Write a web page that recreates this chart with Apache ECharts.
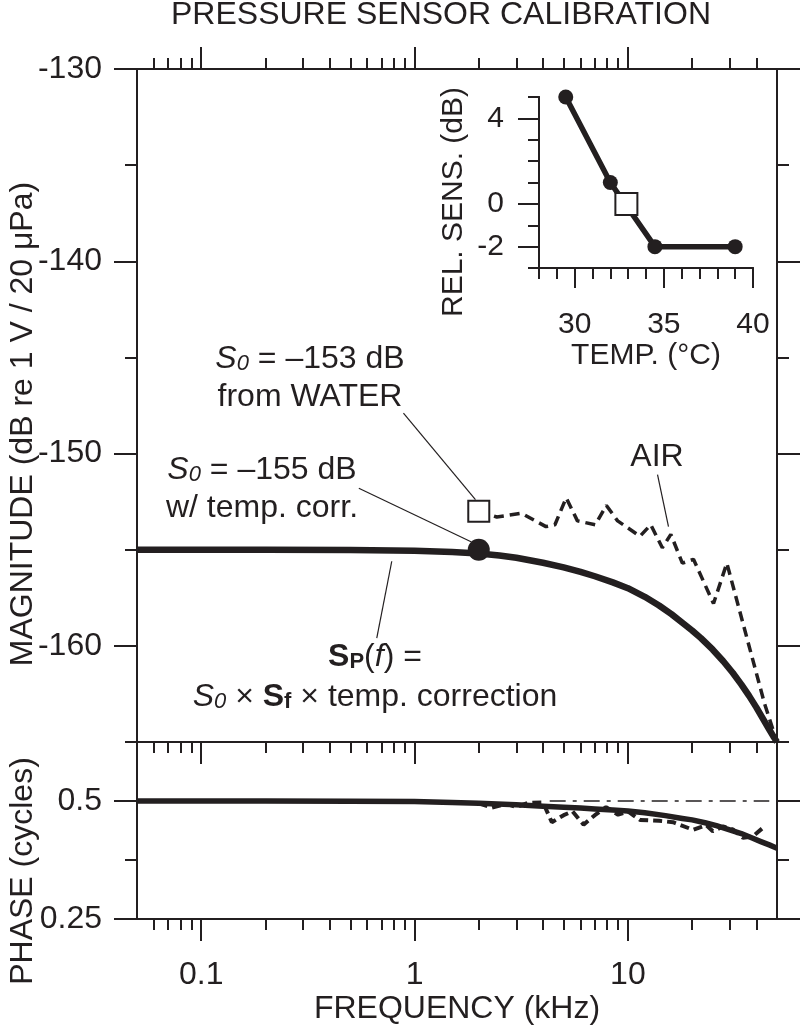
<!DOCTYPE html>
<html>
<head>
<meta charset="utf-8">
<title>Pressure sensor calibration</title>
<script src="https://cdn.jsdelivr.net/npm/echarts@6/dist/echarts.min.js"></script>
<style>
  html, body { margin: 0; padding: 0; background: #fff; }
  #chart { width: 800px; height: 1026px; }
</style>
</head>
<body>
<div id="chart"></div>
<script>
// ---- data ----
// magnitude, S_P(f) solid curve (kHz, dB)
var magFreq  = [0.05, 0.1, 0.2, 0.5, 1, 1.5, 2, 2.5, 3, 4, 5, 6, 7, 8.5, 10, 12, 14, 16, 18, 20, 22, 25, 28, 31, 34, 37, 40, 43, 46, 48, 50];
var magSolid = [-155.0, -155.0, -155.0, -155.02, -155.05, -155.12, -155.2, -155.3, -155.42, -155.68, -155.92, -156.15, -156.38, -156.7, -157.0, -157.45, -157.9, -158.35, -158.8, -159.2, -159.6, -160.2, -160.8, -161.4, -162.0, -162.6, -163.2, -163.8, -164.35, -164.7, -165.0];
// magnitude, AIR measurement (dashed)
var airFreq = [2.0, 2.43, 3.17, 4.13, 4.55, 5.14, 5.8, 7.03, 7.93, 8.95, 11.4, 12.8, 14.5, 15.9, 18.0, 20.3, 25.2, 29.1, 43.7, 50];
var airMag  = [-153.0, -153.3, -153.1, -153.8, -153.7, -152.3, -153.5, -153.7, -152.7, -153.5, -154.3, -153.7, -154.9, -154.2, -155.7, -155.5, -157.8, -155.7, -163.0, -165.0];
// S0 points
var waterPoint = [2, -153];
var s0Point    = [2, -155];

// phase (cycles)
var phFreq  = [0.05, 0.1, 0.2, 0.5, 1, 1.5, 2, 3, 4, 5, 6, 7, 8.5, 10, 12, 15, 18, 20, 23, 26, 30, 34, 38, 42, 46, 50];
var phSolid = [0.5, 0.5, 0.5, 0.4995, 0.499, 0.497, 0.495, 0.492, 0.489, 0.487, 0.485, 0.483, 0.481, 0.479, 0.475, 0.469, 0.463, 0.460, 0.454, 0.448, 0.439, 0.431, 0.422, 0.414, 0.407, 0.400];
var phAirFreq = [2.0, 2.3, 2.7, 3.0, 3.4, 4.0, 4.4, 5.0, 5.5, 6.2, 7.0, 7.9, 9.0, 10.0, 11.4, 14, 16.3, 20.2, 23.3, 25.0, 27.9, 31, 34.6, 38.5, 43.7];
var phAir     = [0.495, 0.486, 0.494, 0.487, 0.496, 0.497, 0.455, 0.470, 0.478, 0.450, 0.470, 0.487, 0.471, 0.478, 0.460, 0.458, 0.455, 0.439, 0.449, 0.436, 0.446, 0.440, 0.422, 0.425, 0.446];
var phRefFreq = [4.3, 46];
var phRef     = [0.5, 0.5];

// inset: relative sensitivity vs temperature
var temps   = [29.5, 32, 34.5, 39];
var relSens = [5, 1, -2, -2];
var insetSquare = [32.9, 0];

// ticks
var freqMajor = [0.1, 1, 10];
var freqMinor = [0.06, 0.07, 0.08, 0.09, 0.2, 0.3, 0.4, 0.5, 0.6, 0.7, 0.8, 0.9, 2, 3, 4, 5, 6, 7, 8, 9, 20, 30, 40];
var magMajor = [-160, -150, -140, -130];
var magMinor = [-165, -155, -145, -135];
var phMajor = [0.25, 0.5];
var phMinor = [0.375, 0.625];
var tempMajor = [30, 35, 40];
var relMajor = [-2, 0, 4];

var ink = '#231f20';
var font = '"Liberation Sans", Arial, Helvetica, sans-serif';
var fs = 32;

function pairs(xs, ys) {
    return xs.map(function (x, i) { return [x, ys[i]]; });
}

function axisBase(extra) {
    var a = {
        axisLine: { show: true, onZero: false, lineStyle: { color: ink, width: 2 } },
        splitLine: { show: false },
        axisLabel: { show: false }
    };
    return Object.assign(a, extra);
}

function tickStyle(values, len, inside) {
    return { show: true, inside: !!inside, length: len, customValues: values, lineStyle: { color: ink, width: 2 } };
}

function freqAxis(grid, pos, ticks, len, inside, labels) {
    var a = axisBase({
        type: 'log', logBase: 10, gridIndex: grid, position: pos, min: 0.05, max: 50,
        axisTick: tickStyle(ticks, len, inside)
    });
    if (labels) {
        a.axisLabel = { show: true, customValues: labels, margin: 40, color: ink, fontSize: fs, fontFamily: font };
        a.name = 'FREQUENCY (kHz)';
        a.nameLocation = 'middle';
        a.nameGap = 74;
        a.nameTextStyle = { color: ink, fontSize: fs, fontFamily: font };
    }
    return a;
}

function valAxis(grid, pos, min, max, ticks, len, labels, labelSize) {
    var a = axisBase({
        type: 'value', gridIndex: grid, position: pos, min: min, max: max,
        axisTick: tickStyle(ticks, len, false)
    });
    if (labels) {
        a.axisLabel = { show: true, customValues: labels, margin: 35, color: ink, fontSize: labelSize || fs, fontFamily: font };
    }
    return a;
}

var chart = echarts.init(document.getElementById('chart'));

var rich = {
    n: { fontSize: fs, fontFamily: font, color: ink },
    i: { fontSize: fs, fontFamily: font, fontStyle: 'italic', color: ink },
    isub: { fontSize: 22, fontFamily: font, fontStyle: 'italic', color: ink, verticalAlign: 'bottom' },
    b: { fontSize: fs, fontFamily: font, fontWeight: 'bold', color: ink },
    bsub: { fontSize: 22, fontFamily: font, fontWeight: 'bold', color: ink, verticalAlign: 'bottom' }
};

function label(x, y, text) {
    return {
        type: 'text', x: x, y: y, silent: true, z: 50,
        style: { text: text, rich: rich, fill: ink, font: fs + 'px ' + font, align: 'center', verticalAlign: 'middle' }
    };
}

function plain(x, y, text, size, rot) {
    return {
        type: 'text', x: x, y: y, rotation: rot || 0, silent: true, z: 50,
        style: { text: text, fill: ink, font: size + 'px ' + font, align: 'center', verticalAlign: 'middle' }
    };
}

chart.setOption({
    animation: false,
    backgroundColor: '#fff',
    grid: [
        { left: 137, top: 69, width: 640, height: 673 },
        { left: 137, top: 742, width: 640, height: 178 },
        { left: 539, top: 97, width: 214, height: 171 }
    ],
    xAxis: [
        freqAxis(0, 'top', freqMajor, 22, false),
        freqAxis(0, 'top', freqMinor, 11, false),
        freqAxis(1, 'top', freqMajor, 22, true),
        freqAxis(1, 'top', freqMinor, 11, true),
        freqAxis(1, 'bottom', freqMajor, 22, false, freqMajor),
        freqAxis(1, 'bottom', freqMinor, 11, false),
        axisBase({
            type: 'value', gridIndex: 2, position: 'bottom', min: 28, max: 40,
            axisTick: tickStyle(tempMajor, 20, false),
            axisLabel: { show: true, customValues: tempMajor, margin: 42, color: ink, fontSize: 30, fontFamily: font },
            name: 'TEMP. (°C)', nameLocation: 'middle', nameGap: 72,
            nameTextStyle: { color: ink, fontSize: 30, fontFamily: font }
        }),
        axisBase({
            type: 'value', gridIndex: 2, position: 'bottom', min: 28, max: 40, interval: 1,
            axisTick: { show: true, length: 11, lineStyle: { color: ink, width: 2 } }
        })
    ],
    yAxis: [
        valAxis(0, 'left', -165, -130, magMajor, 23, magMajor),
        valAxis(0, 'left', -165, -130, magMinor, 12),
        valAxis(0, 'right', -165, -130, magMajor, 23),
        valAxis(0, 'right', -165, -130, magMinor, 12),
        valAxis(1, 'left', 0.25, 0.625, phMajor, 23, phMajor),
        valAxis(1, 'left', 0.25, 0.625, phMinor, 12),
        valAxis(1, 'right', 0.25, 0.625, phMajor, 23),
        valAxis(1, 'right', 0.25, 0.625, phMinor, 12),
        valAxis(2, 'left', -3, 5, relMajor, 21, relMajor, 30),
        axisBase({
            type: 'value', gridIndex: 2, position: 'left', min: -3, max: 5, interval: 1,
            axisTick: { show: true, length: 11, lineStyle: { color: ink, width: 2 } }
        })
    ],
    series: [
        {
            name: 'S_P(f)', type: 'line', xAxisIndex: 0, yAxisIndex: 0,
            data: pairs(magFreq, magSolid), showSymbol: false,
            lineStyle: { color: ink, width: 6.5, join: 'round' }, z: 3,
            markLine: {
                silent: true, symbol: ['none', 'arrow'], symbolSize: [1, [9, 15]],
                label: { show: false },
                lineStyle: { color: ink, width: 1.2, type: 'solid' },
                data: [
                    [{ coord: [0.887, -147.9] }, { coord: [1.93, -152.4] }],
                    [{ coord: [0.548, -151.8] }, { coord: [1.85, -154.6] }],
                    [{ coord: [13.77, -151.1] }, { coord: [15.5, -153.8] }],
                    [{ coord: [0.665, -159.6] }, { coord: [0.782, -155.6] }]
                ]
            }
        },
        {
            name: 'AIR', type: 'line', xAxisIndex: 0, yAxisIndex: 0,
            data: pairs(airFreq, airMag), showSymbol: false,
            lineStyle: { color: ink, width: 3.5, type: [10, 6] }, z: 2
        },
        {
            name: 'S0 water', type: 'scatter', xAxisIndex: 0, yAxisIndex: 0,
            data: [waterPoint], symbol: 'rect', symbolSize: 21,
            itemStyle: { color: '#fff', borderColor: ink, borderWidth: 2, opacity: 1 }, z: 5
        },
        {
            name: 'S0', type: 'scatter', xAxisIndex: 0, yAxisIndex: 0,
            data: [s0Point], symbol: 'circle', symbolSize: 22,
            itemStyle: { color: ink, opacity: 1 }, z: 5
        },
        {
            name: 'phase', type: 'line', xAxisIndex: 2, yAxisIndex: 4,
            data: pairs(phFreq, phSolid), showSymbol: false,
            lineStyle: { color: ink, width: 5.5, join: 'round' }, z: 3
        },
        {
            name: 'phase AIR', type: 'line', xAxisIndex: 2, yAxisIndex: 4,
            data: pairs(phAirFreq, phAir), showSymbol: false,
            lineStyle: { color: ink, width: 4, type: [9, 5] }, z: 2
        },
        {
            name: 'phase ref', type: 'line', xAxisIndex: 2, yAxisIndex: 4,
            data: pairs(phRefFreq, phRef), showSymbol: false,
            lineStyle: { color: ink, width: 1.5, type: [16, 7, 4, 7] }, z: 1
        },
        {
            name: 'rel sens', type: 'line', xAxisIndex: 6, yAxisIndex: 8,
            data: pairs(temps, relSens), symbol: 'circle', symbolSize: 15, showAllSymbol: true,
            lineStyle: { color: ink, width: 5.5 }, itemStyle: { color: ink, opacity: 1 }, z: 3
        },
        {
            name: 'rel sens water', type: 'scatter', xAxisIndex: 6, yAxisIndex: 8,
            data: [insetSquare], symbol: 'rect', symbolSize: 22,
            itemStyle: { color: '#fff', borderColor: ink, borderWidth: 2, opacity: 1 }, z: 5
        }
    ],
    graphic: [
        plain(441, 15, 'PRESSURE SENSOR CALIBRATION', 32),
        plain(23, 424, 'MAGNITUDE (dB re 1 V / 20 μPa)', 32, Math.PI / 2),
        plain(23, 871, 'PHASE (cycles)', 32, Math.PI / 2),
        plain(454, 202, 'REL. SENS. (dB)', 30, Math.PI / 2),
        label(310, 359, '{i|S}{isub|0}{n| = –153 dB}'),
        label(310, 397, '{n|from WATER}'),
        label(262, 470, '{i|S}{isub|0}{n| = –155 dB}'),
        label(262, 508, '{n|w/ temp. corr.}'),
        label(657, 457, '{n|AIR}'),
        label(375, 657, '{b|S}{bsub|P}{n|(}{i|f}{n|) =}'),
        label(375, 697, '{i|S}{isub|0}{n| × }{b|S}{bsub|f}{n| × temp. correction}')
    ]
});
</script>
</body>
</html>
